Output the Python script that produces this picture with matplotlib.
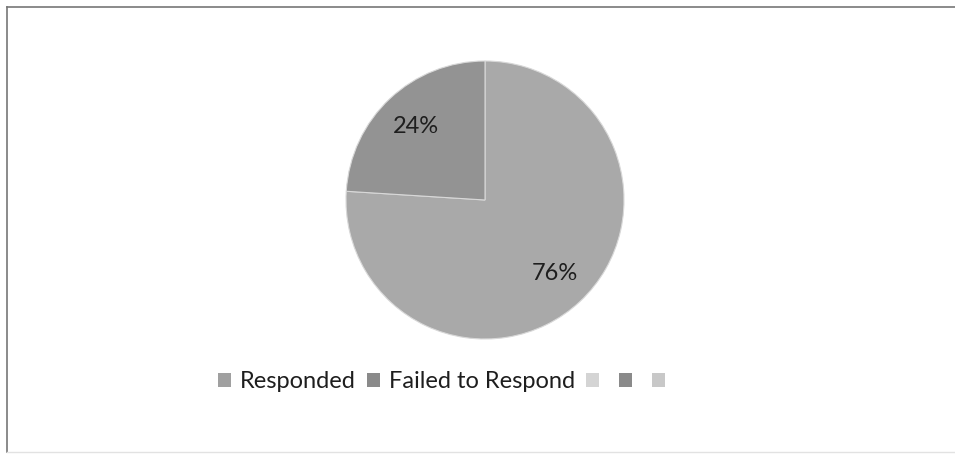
import matplotlib.pyplot as plt
from matplotlib.patches import Patch
from matplotlib.lines import Line2D

# data
labels = ["Responded", "Failed to Respond"]
values = [76, 24]
colors = ["#a9a9a9", "#939393"]
legend_labels = ["Responded", "Failed to Respond", "", "", ""]
legend_colors = ["#a0a0a0", "#8a8a8a", "#d4d4d4", "#8a8a8a", "#c8c8c8"]

plt.rcParams['font.family'] = ['Lato', 'DejaVu Sans']

W, H = 955, 455
fig = plt.figure(figsize=(W / 100, H / 100), dpi=100)
fig.patch.set_facecolor("white")

# outer frame of the chart area (left and top dark, bottom faint)
fig.add_artist(Line2D([7 / W, 7 / W], [1 - 452 / H, 1 - 7 / H], transform=fig.transFigure,
                      color="#777777", linewidth=1.2))
fig.add_artist(Line2D([7 / W, 1], [1 - 7 / H, 1 - 7 / H], transform=fig.transFigure,
                      color="#777777", linewidth=1.2))
fig.add_artist(Line2D([7 / W, 1], [1 - 452 / H, 1 - 452 / H], transform=fig.transFigure,
                      color="#e2e2e2", linewidth=1.0))

cx, cy, r = 485, 200, 139
ax = fig.add_axes([(cx - r) / W, (H - cy - r) / H, 2 * r / W, 2 * r / H])
wedges, texts, autotexts = ax.pie(values, colors=colors, startangle=90, counterclock=False,
                                  autopct="%d%%", pctdistance=0.73,
                                  wedgeprops=dict(edgecolor="#d8d8d8", linewidth=0.8),
                                  textprops=dict(fontsize=17, color="#1e1e1e"))
ax.set_aspect("equal")
ax.set_xlim(-1, 1)
ax.set_ylim(-1, 1)

handles = [Patch(facecolor=c, edgecolor="none") for c in legend_colors]
fig.legend(handles, legend_labels, loc="center", bbox_to_anchor=(446 / W, 1 - 382 / H),
           ncol=5, frameon=False, fontsize=17, handlelength=0.55, handleheight=0.55,
           handletextpad=0.4, columnspacing=0.45, labelcolor="#1e1e1e")

fig.savefig("out.png", dpi=100)
